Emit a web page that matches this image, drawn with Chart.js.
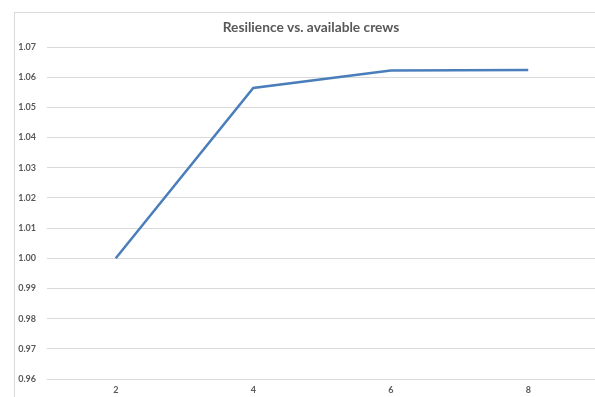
<!DOCTYPE html>
<html>
<head>
<meta charset="utf-8">
<script src="https://cdn.jsdelivr.net/npm/chart.js@4.4.1/dist/chart.umd.min.js"></script>
<style>
  html, body { margin: 0; padding: 0; background: #ffffff; overflow: hidden; }
  #wrap { position: absolute; left: 0; top: 0; width: 612px; height: 410px; }
</style>
</head>
<body>
<div id="wrap"><canvas id="chart" width="612" height="410"></canvas></div>
<script>
// Number of crews available and the resulting resilience index
const crewCounts = ['2', '4', '6', '8'];
const resilience = [1.000, 1.0564, 1.0622, 1.0624];
const yTicks = [0.96, 0.97, 0.98, 0.99, 1.00, 1.01, 1.02, 1.03, 1.04, 1.05, 1.06, 1.07];
const chartTitle = 'Resilience vs. available crews';

const textGray = '#595959';
const gridGray = '#d9d9d9';

// Outer frame plus the heading, centred on the whole chart box
const frameAndHeading = {
  id: 'frameAndHeading',
  beforeDraw(chart) {
    const ctx = chart.ctx;
    ctx.save();
    ctx.strokeStyle = gridGray;
    ctx.lineWidth = 1;
    ctx.strokeRect(14.5, 12.5, 594, chart.height - 2 - 12.5);
    ctx.fillStyle = textGray;
    ctx.font = 'bold 13.75px Lato';
    ctx.textAlign = 'center';
    ctx.textBaseline = 'middle';
    ctx.fillText(chartTitle, 311, 28);
    ctx.restore();
  }
};

new Chart(document.getElementById('chart'), {
  type: 'line',
  data: {
    labels: crewCounts,
    datasets: [{
      label: 'Resilience',
      data: resilience,
      borderColor: '#4a7ebb',
      backgroundColor: '#4a7ebb',
      borderWidth: 2.5,
      pointRadius: 0,
      tension: 0,
      fill: false
    }]
  },
  options: {
    responsive: false,
    animation: false,
    devicePixelRatio: 1,
    layout: { padding: { left: 14, right: 15, top: 47, bottom: 0 } },
    plugins: {
      legend: { display: false },
      tooltip: { enabled: false },
      title: { display: false }
    },
    scales: {
      x: {
        offset: true,
        grid: { display: false, drawTicks: false },
        border: { display: true, color: gridGray, width: 1 },
        ticks: {
          color: textGray,
          font: { family: 'Lato', size: 9, weight: 'bold' },
          padding: 6,
          maxRotation: 0
        },
        afterFit(scale) { scale.height = 410 - 379; }
      },
      y: {
        min: 0.96,
        max: 1.07,
        afterBuildTicks(scale) { scale.ticks = yTicks.map(v => ({ value: v })); },
        grid: { color: gridGray, lineWidth: 1, drawTicks: false },
        border: { display: false },
        ticks: {
          color: textGray,
          font: { family: 'Lato', size: 9, weight: 'bold' },
          padding: 11,
          callback: v => Number(v).toFixed(2)
        },
        afterFit(scale) { scale.width = 33; }
      }
    }
  },
  plugins: [frameAndHeading]
});
</script>
</body>
</html>
